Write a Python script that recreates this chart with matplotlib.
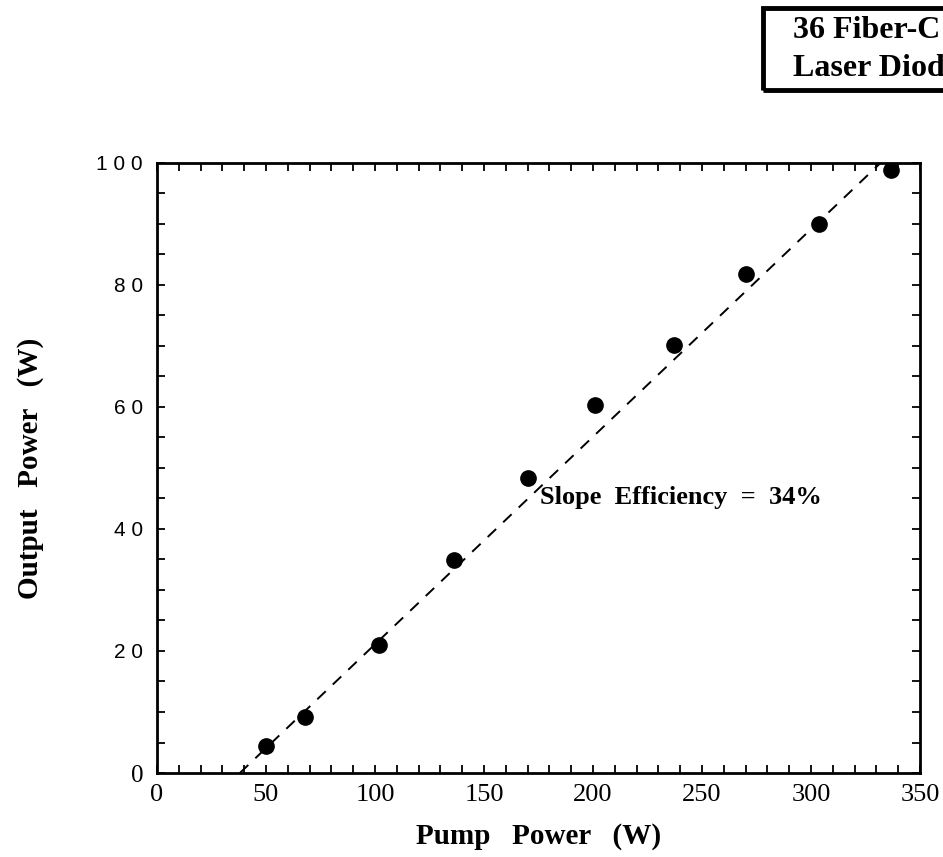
import matplotlib
matplotlib.use("Agg")
import matplotlib.pyplot as plt
from matplotlib.patches import Rectangle
from matplotlib.ticker import MultipleLocator

# data
pump_power = [50.0, 67.9, 101.8, 136.2, 170.2, 200.9, 237.2, 270.2, 303.7, 336.7]
output_power = [4.4, 9.2, 21.0, 34.9, 48.4, 60.3, 70.2, 81.8, 90.0, 98.9]

# linear fit shown as dashed line
fit_x = [38.0, 332.0]
fit_y = [0.0, 100.0]

x_ticks = [0, 50, 100, 150, 200, 250, 300, 350]
y_ticks = [0, 20, 40, 60, 80, 100]
y_tick_labels = ["0", "2 0", "4 0", "6 0", "8 0", "1 0 0"]

serif = ["Liberation Serif", "DejaVu Serif"]
sans = ["Liberation Sans", "DejaVu Sans"]

fig = plt.figure(figsize=(9.43, 8.57), dpi=100)
ax = fig.add_axes([0.1665, 0.098, 0.809, 0.712])

ax.plot(fit_x, fit_y, color="black", lw=1.4, linestyle=(0, (6, 5)))
ax.plot(pump_power, output_power, "o", color="black", markersize=11)

ax.set_xlim(0, 350)
ax.set_ylim(0, 100)
ax.set_xticks(x_ticks)
ax.set_xticklabels([str(v) for v in x_ticks], fontfamily=serif, fontsize=19)
ax.set_yticks(y_ticks)
ax.set_yticklabels(y_tick_labels, fontfamily=sans, fontsize=15)
ax.get_yticklabels()[0].set_fontfamily(serif)
ax.get_yticklabels()[0].set_fontsize(18)
ax.xaxis.set_minor_locator(MultipleLocator(10))
ax.yaxis.set_minor_locator(MultipleLocator(5))
ax.tick_params(which="both", direction="in", top=True, right=True,
               length=6, width=1.3)
ax.tick_params(axis="x", pad=8)
ax.tick_params(axis="y", pad=10)
for sp in ax.spines.values():
    sp.set_linewidth(2)

ax.set_xlabel("Pump   Power   (W)", fontfamily=serif, fontweight="bold",
              fontsize=21, labelpad=12)
ax.set_ylabel("Output   Power   (W)", fontfamily=serif, fontweight="bold",
              fontsize=21, labelpad=38)

ax.text(175.5, 45.2, "Slope  Efficiency  =  34%", fontfamily=serif,
        fontweight="bold", fontsize=19, va="center", ha="left")

# title box cut off at the right edge of the page
fig.patches.append(Rectangle((763 / 943, 1 - 90 / 857), 0.3, 82 / 857,
                             transform=fig.transFigure, fill=False,
                             edgecolor="black", lw=3.5, clip_on=False))
fig.text(793 / 943, 1 - 30 / 857, "36 Fiber-C", fontfamily=serif,
         fontweight="bold", fontsize=23, va="center", ha="left")
fig.text(793 / 943, 1 - 68 / 857, "Laser Diod", fontfamily=serif,
         fontweight="bold", fontsize=23, va="center", ha="left")

fig.savefig("out.png", dpi=100)
